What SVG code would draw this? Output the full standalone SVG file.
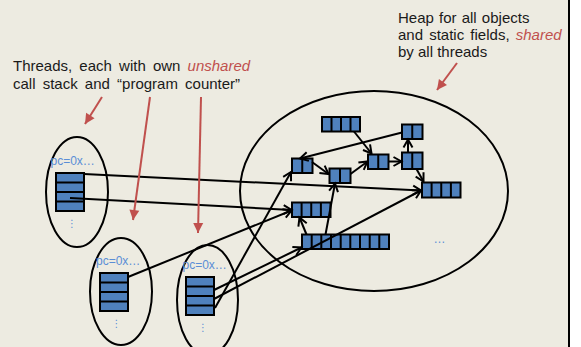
<svg xmlns="http://www.w3.org/2000/svg" width="581" height="347" viewBox="0 0 581 347">
  <defs>
    <style>
      .txt { font-family: "Liberation Sans", Arial, sans-serif; font-size: 15px; fill: #1a1a1a; }
      .red { fill: #C0504D; font-style: italic; }
      .pc { font-family: "Liberation Sans", Arial, sans-serif; font-size: 12px; fill: #5B8ED6; }
      .dots { font-family: "DejaVu Sans", sans-serif; font-size: 10px; fill: #5B8ED6; text-anchor: middle; }
      .space { fill: none; stroke: #000; stroke-width: 2; }
      .cell { fill: #4F81BD; stroke: #000; stroke-width: 2; }
      .div { stroke: #000; stroke-width: 2; }
      .ref { fill: none; stroke: #000; stroke-width: 2; marker-end: url(#open); }
      .note { fill: none; stroke: #C0504D; stroke-width: 2; marker-end: url(#tri); }
    </style>
    <marker id="open" markerUnits="userSpaceOnUse" markerWidth="12" markerHeight="12" refX="10" refY="6" orient="auto" overflow="visible">
      <path d="M2,1.5 L10,6 L2,10.5" fill="none" stroke="#000" stroke-width="2"/>
    </marker>
    <marker id="tri" markerUnits="userSpaceOnUse" markerWidth="12" markerHeight="12" refX="10" refY="5" orient="auto" overflow="visible">
      <path d="M0,0 L10,5 L0,10 Z" fill="#C0504D"/>
    </marker>
  </defs>

  <!-- page -->
  <rect x="0" y="0" width="581" height="347" fill="#fff"/>
  <rect x="0" y="0" width="569" height="347" fill="#EDEBE1"/>
  <line x1="569" y1="0" x2="569" y2="347" stroke="#000" stroke-width="2"/>

  <!-- captions -->
  <g id="threads-caption">
    <text class="txt" x="13" y="71" word-spacing="3">Threads, each with own <tspan class="red">unshared</tspan></text>
    <text class="txt" x="13" y="88.5" word-spacing="3">call stack and “program counter”</text>
  </g>
  <g id="heap-caption">
    <text class="txt" x="398" y="22.5" word-spacing="1">Heap for all objects</text>
    <text class="txt" x="398" y="39.5" word-spacing="2">and static fields, <tspan class="red">shared</tspan></text>
    <text class="txt" x="398" y="56.5">by all threads</text>
  </g>

  <!-- heap -->
  <g id="heap">
    <ellipse class="space" cx="374" cy="191" rx="134" ry="100"/>
    <text class="pc" x="439.5" y="243" text-anchor="middle">…</text>
  </g>

  <!-- threads -->
  <g id="thread1">
    <ellipse class="space" cx="77" cy="192" rx="31" ry="55"/>
    <text class="pc" x="50.5" y="165">pc=0x…</text>
    <rect class="cell" x="56" y="173" width="28" height="38"/>
    <path class="div" d="M56,182.5H84M56,192H84M56,201.5H84"/>
    <text class="dots" x="72" y="227">⋮</text>
  </g>
  <g id="thread2">
    <ellipse class="space" cx="121" cy="291.5" rx="31" ry="53.5"/>
    <text class="pc" x="96" y="265">pc=0x…</text>
    <rect class="cell" x="100" y="273" width="28" height="38"/>
    <path class="div" d="M100,282.5H128M100,292H128M100,301.5H128"/>
    <text class="dots" x="116.5" y="327">⋮</text>
  </g>
  <g id="thread3">
    <ellipse class="space" cx="207.5" cy="300" rx="30.5" ry="55"/>
    <text class="pc" x="182.5" y="269">pc=0x…</text>
    <rect class="cell" x="186" y="277" width="28" height="38"/>
    <path class="div" d="M186,286.5H214M186,296H214M186,305.5H214"/>
    <text class="dots" x="203" y="331">⋮</text>
  </g>

  <!-- heap objects -->
  <g id="objA">
    <rect class="cell" x="322" y="117" width="38" height="14.5"/>
    <path class="div" d="M331.5,117V131.5M341,117V131.5M350.5,117V131.5"/>
  </g>
  <g id="objB">
    <rect class="cell" x="402" y="124.5" width="20.5" height="14.5"/>
    <path class="div" d="M412.25,124.5V139"/>
  </g>
  <g id="objC">
    <rect class="cell" x="292" y="158.5" width="20.5" height="14.5"/>
    <path class="div" d="M302.25,158.5V173"/>
  </g>
  <g id="objD">
    <rect class="cell" x="329.5" y="168.5" width="21" height="14.5"/>
    <path class="div" d="M340,168.5V183"/>
  </g>
  <g id="objE">
    <rect class="cell" x="368" y="154.5" width="20.5" height="14.5"/>
    <path class="div" d="M378.25,154.5V169"/>
  </g>
  <g id="objF">
    <rect class="cell" x="402" y="152.5" width="20.5" height="16.5"/>
    <path class="div" d="M412.25,152.5V169"/>
  </g>
  <g id="objG">
    <rect class="cell" x="422" y="182.5" width="38.5" height="15"/>
    <path class="div" d="M431.6,182.5V197.5M441.25,182.5V197.5M450.9,182.5V197.5"/>
  </g>
  <g id="objH">
    <rect class="cell" x="292" y="202.5" width="38.5" height="14.5"/>
    <path class="div" d="M301.6,202.5V217M311.25,202.5V217M320.9,202.5V217"/>
  </g>
  <g id="objI">
    <rect class="cell" x="302" y="234.5" width="87" height="14.5"/>
    <path class="div" d="M311.7,234.5V249M321.3,234.5V249M331,234.5V249M340.7,234.5V249M350.3,234.5V249M360,234.5V249M369.7,234.5V249M379.3,234.5V249"/>
  </g>

  <!-- references -->
  <g id="connectors">
    <path class="ref" d="M354,131.5L371.5,153.5"/>
    <path class="ref" d="M402,132.5L300,158.5"/>
    <path class="ref" d="M312,162L328.5,174"/>
    <path class="ref" d="M350.5,174L367.5,161.5"/>
    <path class="ref" d="M388.5,161.5L401.5,161.5"/>
    <path class="ref" d="M408,152.5L408,139.5"/>
    <path class="ref" d="M416.5,169L423.5,181.5"/>
    <path class="ref" d="M306.5,234.5L299.5,217.5"/>
    <path class="ref" d="M325.5,234.5L335,183.5"/>
    <path class="ref" d="M84,174L421,190.5"/>
    <path class="ref" d="M70,198L291.5,210"/>
    <path class="ref" d="M128,277L291.5,210.5"/>
    <path class="ref" d="M214,290L301.5,247.5"/>
    <path class="ref" d="M214,299L421,190.5"/>
    <path class="ref" d="M215,308L291,172"/>
    <!-- caption pointers -->
    <path class="note" d="M102,97L85,124"/>
    <path class="note" d="M150,97L133,220"/>
    <path class="note" d="M201,97L198,233"/>
    <path class="note" d="M457,63L437,90"/>
  </g>
</svg>
